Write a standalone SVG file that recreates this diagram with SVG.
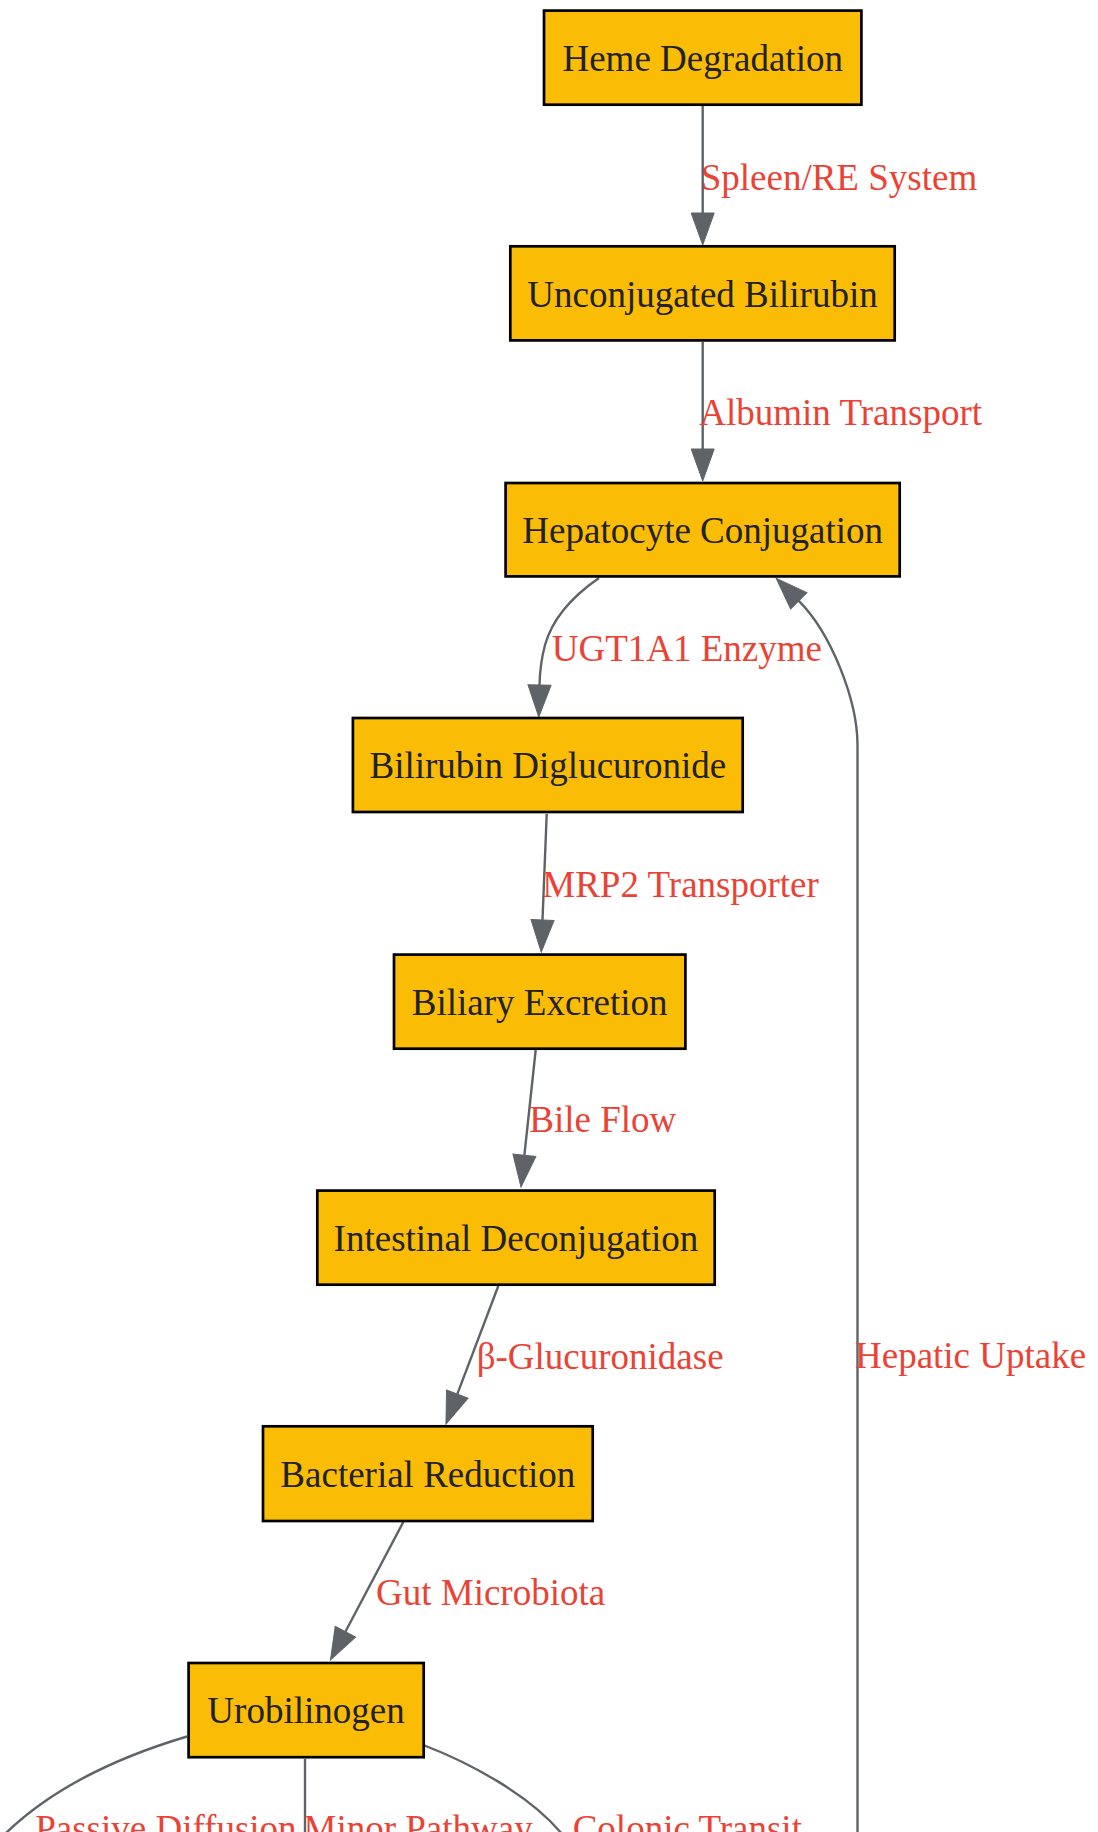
<svg xmlns="http://www.w3.org/2000/svg" width="1098" height="1832" viewBox="0 0 1098 1832">
<style>
.node rect{fill:#fbbc05;stroke:#000;stroke-width:2.7}
.node text{font-family:"Liberation Serif","Times New Roman",serif;font-size:37px;fill:#222;text-anchor:middle}
.edge path{fill:none;stroke:#5f6368;stroke-width:2.4}
.lbl{font-family:"Liberation Serif","Times New Roman",serif;font-size:37px;fill:#ea4335}
</style>
<defs>
<marker id="arr" markerUnits="userSpaceOnUse" markerWidth="33" markerHeight="24" refX="0" refY="11.5" orient="auto" viewBox="0 0 33 24" overflow="visible">
<path d="M0,0 L32,11.5 L0,23 Z" fill="#5f6368" stroke="#5f6368" stroke-width="1"/>
</marker>
</defs>
<rect width="1098" height="1832" fill="#fff"/>
<g id="connectors">
<g class="edge" id="e1"><path d="M702.7,106 L702.7,213" marker-end="url(#arr)"/><text class="lbl" x="700.7" y="190">Spleen/RE System</text></g>
<g class="edge" id="e2"><path d="M702.7,342 L702.7,449" marker-end="url(#arr)"/><text class="lbl" x="699.3" y="425">Albumin Transport</text></g>
<g class="edge" id="e3"><path d="M599,578 C570,598 552,620 545,645 C541,660 539.8,672 539.5,685" marker-end="url(#arr)"/><text class="lbl" x="551.7" y="661">UGT1A1 Enzyme</text></g>
<g class="edge" id="e4"><path d="M546.7,814 L542.5,920" marker-end="url(#arr)"/><text class="lbl" x="542.3" y="896.7">MRP2 Transporter</text></g>
<g class="edge" id="e5"><path d="M535.7,1050 L524.4,1155.2" marker-end="url(#arr)"/><text class="lbl" x="529.3" y="1132.3">Bile Flow</text></g>
<g class="edge" id="e6"><path d="M498.3,1286 L457.3,1394.1" marker-end="url(#arr)"/><text class="lbl" x="476.7" y="1369">β-Glucuronidase</text></g>
<g class="edge" id="e7"><path d="M403.3,1522 L345.4,1631.7" marker-end="url(#arr)"/><text class="lbl" x="376" y="1605">Gut Microbiota</text></g>
<g class="edge" id="e8"><path d="M857.5,1832 L857.5,745 C857.5,700 831,633 798.8,600.8" marker-end="url(#arr)"/><text class="lbl" x="855" y="1368">Hepatic Uptake</text></g>
<g class="edge" id="e9"><path d="M187,1736.5 C115,1758 50,1790 5,1834"/><text class="lbl" x="35.2" y="1841">Passive Diffusion</text></g>
<g class="edge" id="e10"><path d="M305,1759 L305,1834"/><text class="lbl" x="303.5" y="1841">Minor Pathway</text></g>
<g class="edge" id="e11"><path d="M423.3,1745 C470,1763 530,1795 562,1834"/><text class="lbl" x="572.7" y="1841">Colonic Transit</text></g>
</g>
<g class="node" id="n1"><rect x="544" y="10.6" width="317.4" height="94.1"/><text x="702.7" y="70.7">Heme Degradation</text></g>
<g class="node" id="n2"><rect x="510.3" y="246.3" width="384.4" height="94.1"/><text x="702.5" y="306.5">Unconjugated Bilirubin</text></g>
<g class="node" id="n3"><rect x="505.6" y="483" width="394.1" height="93.4"/><text x="702.7" y="543">Hepatocyte Conjugation</text></g>
<g class="node" id="n4"><rect x="352.9" y="718" width="389.8" height="94"/><text x="547.8" y="778">Bilirubin Diglucuronide</text></g>
<g class="node" id="n5"><rect x="394" y="954.6" width="291.4" height="94.1"/><text x="539.7" y="1014.8">Biliary Excretion</text></g>
<g class="node" id="n6"><rect x="317.3" y="1190.6" width="397.4" height="94.1"/><text x="516" y="1250.8">Intestinal Deconjugation</text></g>
<g class="node" id="n7"><rect x="263" y="1426.3" width="329.7" height="94.7"/><text x="427.8" y="1486.5">Bacterial Reduction</text></g>
<g class="node" id="n8"><rect x="188.6" y="1663" width="235.1" height="94.2"/><text x="306" y="1723.2">Urobilinogen</text></g>
</svg>
